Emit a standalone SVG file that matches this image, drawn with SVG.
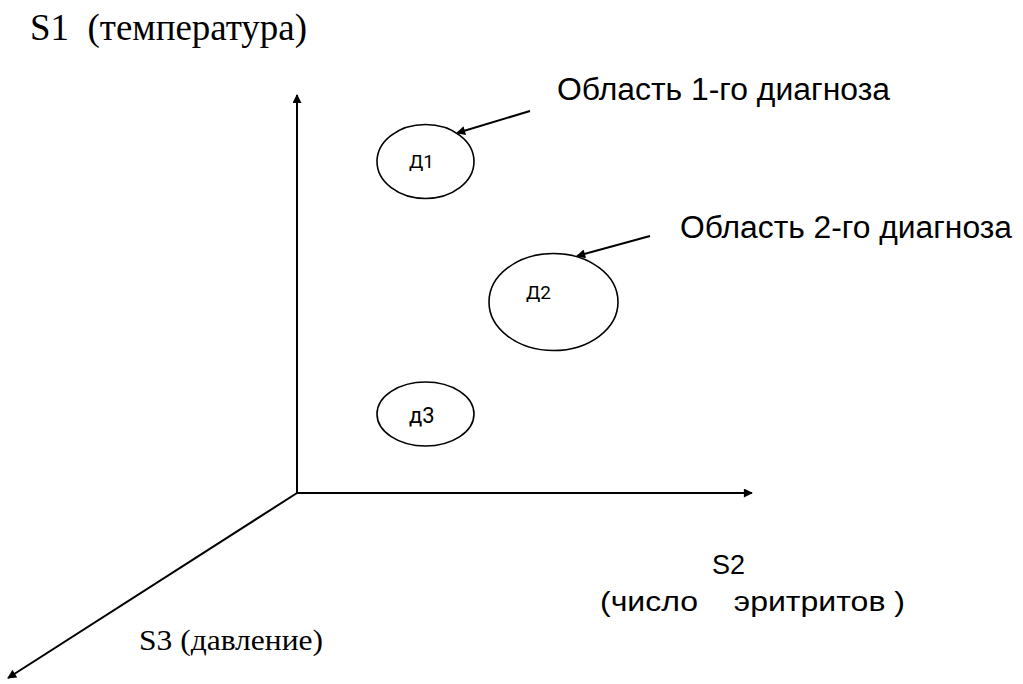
<svg xmlns="http://www.w3.org/2000/svg" width="1023" height="684" viewBox="0 0 1023 684">
  <style>
    .serif { font-family: "Liberation Serif", "Times New Roman", serif; fill: #000; }
    .sans { font-family: "Liberation Sans", Arial, sans-serif; fill: #000; }
    .tag { font-family: Roboto, "Noto Sans", sans-serif; fill: #000; }
    .line { stroke: #000; stroke-width: 2; fill: none; }
    .region { stroke: #000; stroke-width: 1.6; fill: #fff; }
  </style>
  <defs>
    <marker id="arrow" viewBox="0 0 10 10" refX="9" refY="5" markerWidth="13" markerHeight="9" markerUnits="userSpaceOnUse" orient="auto">
      <path d="M0,0 L10,5 L0,10 z" fill="#000"/>
    </marker>
  </defs>

  <rect width="1023" height="684" fill="#fff"/>

  <!-- axes and callout connectors -->
  <g id="connectors">
    <line class="line" x1="297" y1="493" x2="297" y2="95" marker-end="url(#arrow)"/>
    <line class="line" x1="297" y1="493" x2="752" y2="493" marker-end="url(#arrow)"/>
    <line class="line" x1="297" y1="493" x2="8" y2="678" marker-end="url(#arrow)"/>
    <line class="line" x1="530" y1="111" x2="457" y2="133" marker-end="url(#arrow)"/>
    <line class="line" x1="650" y1="236" x2="577" y2="256" marker-end="url(#arrow)"/>
  </g>

  <!-- axis labels -->
  <g id="axis-s1">
    <text class="serif" x="30" y="40" font-size="37" textLength="277" lengthAdjust="spacingAndGlyphs" xml:space="preserve">S1  (температура)</text>
  </g>
  <g id="axis-s2">
    <text class="sans" x="712" y="574" font-size="27">S2</text>
    <text class="sans" x="600" y="611" font-size="28" textLength="305" lengthAdjust="spacingAndGlyphs" xml:space="preserve">(число    эритритов )</text>
  </g>
  <g id="axis-s3">
    <text class="serif" x="139" y="650" font-size="30" textLength="184" lengthAdjust="spacingAndGlyphs">S3 (давление)</text>
  </g>

  <!-- diagnosis regions -->
  <g id="region-d1">
    <ellipse class="region" cx="425.5" cy="161.5" rx="48.5" ry="37"/>
    <text class="tag" x="409" y="168" font-size="19">Д1</text>
  </g>
  <g id="region-d2">
    <ellipse class="region" cx="553.5" cy="302" rx="64.5" ry="48.5"/>
    <text class="tag" x="526" y="299" font-size="19">Д2</text>
  </g>
  <g id="region-d3">
    <ellipse class="region" cx="425.5" cy="414" rx="48.5" ry="32"/>
    <text class="tag" x="409" y="423" font-size="22">д3</text>
  </g>

  <!-- callout labels -->
  <g id="label-d1">
    <text class="sans" x="557" y="100" font-size="31" textLength="333" lengthAdjust="spacingAndGlyphs">Область 1-го диагноза</text>
  </g>
  <g id="label-d2">
    <text class="sans" x="680" y="238" font-size="31" textLength="332" lengthAdjust="spacingAndGlyphs">Область 2-го диагноза</text>
  </g>
</svg>
